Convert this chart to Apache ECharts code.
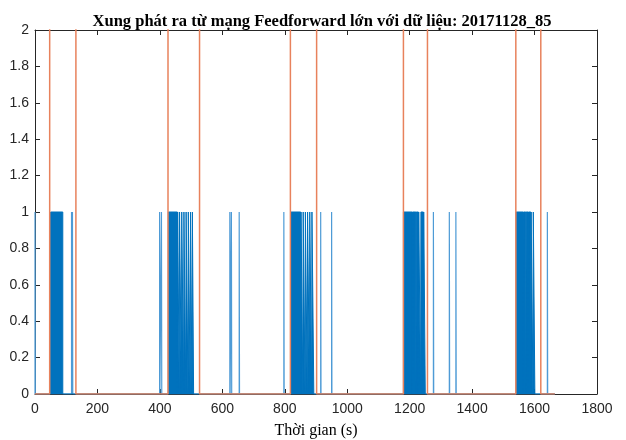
<!DOCTYPE html>
<html>
<head>
<meta charset="utf-8">
<script src="https://cdn.jsdelivr.net/npm/echarts@6/dist/echarts.min.js"></script>
<style>html,body{margin:0;padding:0;background:#fff;}#c{width:626px;height:440px;}</style>
</head>
<body>
<div id="c"></div>
<script>
// Orange gate signal: on/off times (s) and high level (clipped above 2)
const gateOn  = [47, 426, 818, 1180, 1540];
const gateOff = [131, 527, 902, 1257, 1620];
const gateHigh = 3;
const signalEnd = 1665;

// Dense burst pulses [start, end] (value 1)
const burstPulses = [
  [50, 89],
  [427, 456], [457, 462], [463, 469], [470, 476], [477, 483], [484, 490], [491, 497], [498, 503], [504, 508],
  [820, 851], [852, 858], [859, 865], [866, 872], [873, 879], [880, 886], [887, 893],
  [1180, 1209], [1210, 1220], [1221, 1228], [1229, 1235], [1236, 1244], [1245, 1250],
  [1541, 1564], [1565, 1572], [1573, 1580], [1581, 1588], [1589, 1595], [1596, 1601]
];
// Isolated single spikes (value 1 for one second)
const spikeTimes = [0, 117, 120, 399, 405, 624, 629, 654, 797, 915, 950, 1276, 1327, 1348, 1641];

const xTicks = {min: 0, max: 1800, interval: 200};
const yTicks = {min: 0, max: 2, interval: 0.2};

function pulseLine(pulses) {
  const d = [[0, 0]];
  pulses.forEach(p => { d.push([p[0], 0], [p[0], 1], [p[1], 1], [p[1], 0]); });
  d.push([signalEnd, 0]);
  return d;
}
const gateData = [[0, 0]];
gateOn.forEach((t, i) => {
  gateData.push([t, 0], [t, gateHigh], [gateOff[i], gateHigh], [gateOff[i], 0]);
});
gateData.push([signalEnd, 0]);

const spikeData = pulseLine(spikeTimes.map(t => [t, t + 1]));
const burstData = pulseLine(burstPulses);

const axisCol = '#262626';
const tickStyle = {show: true, inside: true, length: 5, lineStyle: {color: axisCol}};
const lineStyleAx = {show: true, onZero: false, lineStyle: {color: axisCol, width: 1}};
const chart = echarts.init(document.getElementById('c'), null, {renderer: 'canvas'});
chart.setOption({
  animation: false,
  backgroundColor: '#fff',
  title: {
    text: 'Xung phát ra từ mạng Feedforward lớn với dữ liệu: 20171128_85',
    left: 317, top: 8, textAlign: 'center',
    textStyle: {fontFamily: 'Liberation Serif', fontWeight: 'bold', fontSize: 16.5, color: '#000'}
  },
  grid: {left: 35, right: 29, top: 30, bottom: 46, containLabel: false, outerBoundsMode: 'none'},
  xAxis: [{
    type: 'value', min: xTicks.min, max: xTicks.max, interval: xTicks.interval,
    name: 'Thời gian (s)', nameLocation: 'middle', nameGap: 29,
    nameTextStyle: {fontFamily: 'Liberation Serif', fontSize: 16, color: '#000'},
    axisLine: lineStyleAx, axisTick: tickStyle,
    axisLabel: {fontFamily: 'Liberation Sans', fontSize: 14, color: axisCol, margin: 8,
      formatter: v => String(v)},
    splitLine: {show: false}
  }, {
    type: 'value', position: 'top', min: xTicks.min, max: xTicks.max, interval: xTicks.interval,
    axisLine: lineStyleAx, axisTick: tickStyle,
    axisLabel: {show: false}, splitLine: {show: false}
  }],
  yAxis: [{
    type: 'value', min: yTicks.min, max: yTicks.max, interval: yTicks.interval,
    axisLine: lineStyleAx, axisTick: tickStyle,
    axisLabel: {fontFamily: 'Liberation Sans', fontSize: 14, color: axisCol, margin: 6,
      formatter: v => String(Math.round(v * 10) / 10)},
    splitLine: {show: false}
  }, {
    type: 'value', position: 'right', min: yTicks.min, max: yTicks.max, interval: yTicks.interval,
    axisLine: lineStyleAx, axisTick: tickStyle,
    axisLabel: {show: false}, splitLine: {show: false}
  }],
  series: [{
    type: 'line', data: spikeData, showSymbol: false, z: 2,
    lineStyle: {color: '#4E9BD6', width: 1.2}, clip: true
  }, {
    type: 'line', data: burstData, showSymbol: false, z: 3,
    lineStyle: {color: '#0072BD', width: 1},
    areaStyle: {color: '#0072BD', opacity: 1, origin: 0}, clip: true
  }, {
    type: 'line', data: gateData, showSymbol: false, z: 4,
    lineStyle: {color: '#E8825C', width: 1.5}, clip: true
  }]
});
</script>
</body>
</html>
